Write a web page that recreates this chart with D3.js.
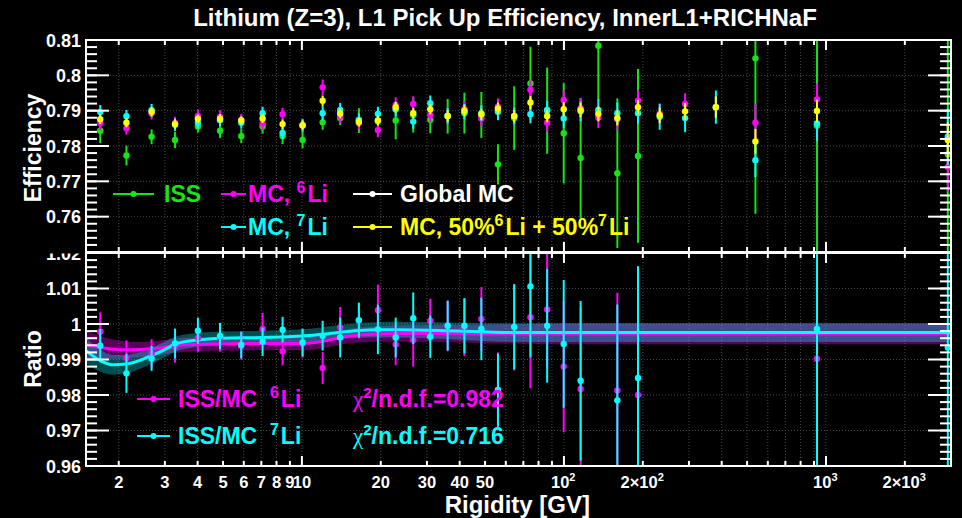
<!DOCTYPE html>
<html>
<head>
<meta charset="utf-8">
<script src="https://d3js.org/d3.v7.min.js"></script>
<style>
  body { margin: 0; background: #000; }
  svg { display: block; font-family: "Liberation Sans", Arial, sans-serif; font-weight: bold; }
  text { white-space: pre; }
</style>
</head>
<body>
<script>
// rigidity bin centres [GV]
var rig = [1.70, 2.14, 2.67, 3.28, 4.01, 4.87, 5.87, 7.08, 8.44, 10.06, 12.0, 14.0, 16.5, 19.5, 22.8, 26.6, 30.9, 36.0, 41.7, 48.4,
           56.0, 64.6, 74.5, 86.3, 99.8, 115.8, 135.3, 159.9, 191.7, 232, 290, 380, 538, 924, 2917];

// efficiencies (top panel)
var issEff = [0.7843,0.7773,0.7826,0.7817,0.7855,0.7843,0.7828,0.7855,0.7828,0.7817,0.7867,0.7879,0.7872,0.7870,0.7872,0.7888,0.7874,0.7884,0.7893,0.7888,
              0.7748,0.7879,0.7977,0.7900,0.7836,0.7766,0.8084,0.7723,0.7772,null,null,null,0.8048,0.7857,0.7777];
var issErr = [0.0035,0.0028,0.0021,0.0023,0.0017,0.002,0.002,0.002,0.0023,0.0023,0.0021,0.002,0.0035,0.0033,0.0053,0.005,0.0038,0.0049,0.0058,0.0065,
              0.0057,0.009,0.0104,0.0122,0.0142,0.017,0.0156,0.0212,0.0246,null,null,null,0.044,0.1,0.1];
var mc6Eff = [0.7865,0.7850,0.7893,0.7865,0.7885,0.7883,0.7874,0.7864,0.7890,0.7858,0.7966,0.7884,0.7865,0.7845,0.7916,0.7919,0.7888,0.7885,0.7904,0.7878,
              0.7911,0.7885,0.7959,0.7866,0.7930,0.7907,0.7881,0.7876,0.7928,0.7891,0.7919,0.7910,0.7866,0.7932,0.7741];
var mc6Err = [0.002,0.0018,0.0018,0.0018,0.0018,0.0018,0.0017,0.0018,0.0018,0.0018,0.0022,0.002,0.0018,0.002,0.0022,0.0022,0.002,0.0022,0.0022,0.0022,
              0.0024,0.0024,0.0026,0.0026,0.0028,0.0028,0.003,0.003,0.003,0.0028,0.003,0.003,0.0053,0.0045,0.007];
var mc7Eff = [0.7896,0.7884,0.7901,0.7860,0.7866,0.7873,0.7866,0.7893,0.7837,0.7858,0.7893,0.7902,0.7874,0.7891,0.7904,0.7869,0.7921,0.7885,0.7897,0.7893,
              0.7897,0.7885,0.7890,0.7902,0.7878,0.7898,0.7902,0.7893,0.7893,0.7883,0.7879,0.7910,0.7760,0.7864,0.7826];
var mc7Err = [0.002,0.0018,0.0018,0.0018,0.0017,0.0017,0.0017,0.0018,0.0018,0.0018,0.002,0.002,0.0018,0.002,0.002,0.002,0.0022,0.0022,0.0022,0.0022,
              0.0024,0.0024,0.0026,0.0026,0.0028,0.0028,0.003,0.003,0.003,0.0037,0.004,0.0047,0.0048,0.005,0.008];
var mixEff = [0.7876,0.7866,0.7897,0.7862,0.7877,0.7877,0.7872,0.7878,0.7862,0.7859,0.7928,0.7892,0.7868,0.7872,0.7910,0.7893,0.7904,0.7885,0.7900,0.7890,
              0.7906,0.7884,0.7923,0.7885,0.7904,0.7902,0.7891,0.7879,0.7910,0.7887,0.7898,0.7910,0.7813,0.7899,0.7817];
var mixErr = [0.0014,0.0013,0.0013,0.0013,0.0012,0.0012,0.0012,0.0013,0.0013,0.0013,0.0015,0.0014,0.0013,0.0014,0.0015,0.0015,0.0015,0.0016,0.0016,0.0016,
              0.0017,0.0017,0.0018,0.0018,0.002,0.002,0.0021,0.0021,0.0021,0.0022,0.0024,0.003,0.0035,0.0032,0.005];

// ratios (bottom panel)
var ratio7 = [0.9939,0.9861,0.9903,0.9945,0.9981,0.9966,0.9941,0.9950,0.9984,0.9948,0.9967,0.9962,1.0011,0.9985,0.9962,1.0016,0.9964,0.9995,0.9995,0.9986,
              0.9814,0.9992,1.0106,0.9995,0.9944,0.9840,null,0.9785,0.9848,null,null,null,null,0.9986,0.9934];
var ratio7Err = [0.0047,0.0055,0.0035,0.0042,0.0037,0.0037,0.0037,0.004,0.0036,0.0039,0.0042,0.0056,0.0049,0.007,0.0056,0.0073,0.006,0.007,0.0078,0.0088,
                 0.0103,0.012,0.02,0.016,0.018,0.0225,null,0.027,0.0315,null,null,null,null,0.1,0.1];
var ratio6 = [0.9978,0.9904,0.9917,0.9936,0.9961,0.9962,0.9939,0.9986,0.9923,0.9945,0.9876,0.9990,1.0009,1.0039,0.9942,0.9955,1.0009,0.9995,0.9990,1.0014,
              0.9815,0.9991,1.0019,1.0041,0.9880,0.9817,null,0.9813,0.9800,null,null,null,null,0.9902,null];
var ratio6Err = [0.0055,0.005,0.004,0.0045,0.004,0.004,0.004,0.0045,0.004,0.004,0.0045,0.0058,0.005,0.0072,0.0058,0.0075,0.0062,0.0072,0.008,0.009,
                 0.0105,0.0122,0.02,0.0165,0.0185,0.023,null,0.0275,0.032,null,null,null,null,0.1,null];

// spline fits to the ratios with their error bands
var fitR    = [1.5, 1.7, 1.9, 2.14, 2.4, 2.67, 3.0, 3.28, 4.0, 4.9, 7.1, 10, 12, 14, 16.5, 19.5, 23, 36, 48, 60, 100, 3000];
var fit7    = [0.9925,0.9897,0.9885,0.9887,0.9897,0.9911,0.9928,0.9943,0.9955,0.9960,0.9962,0.9966,0.9971,0.9977,0.9982,0.9984,0.9984,0.9981,0.9978,0.9976,0.9976,0.9976];
var fit7Err = [0.0036,0.0031,0.0028,0.0026,0.0024,0.0023,0.0022,0.0021,0.002,0.0019,0.0019,0.0019,0.002,0.002,0.0021,0.0021,0.0022,0.0023,0.0025,0.0026,0.0027,0.0027];
var fit6    = [0.9942,0.9934,0.9929,0.9927,0.9928,0.9930,0.9935,0.9939,0.9943,0.9944,0.9945,0.9945,0.9951,0.9962,0.9969,0.9972,0.9973,0.9973,0.9972,0.9972,0.9972,0.9972];
var fit6Err = [0.0038,0.0032,0.0027,0.0024,0.0022,0.0021,0.002,0.002,0.0019,0.0019,0.0019,0.0019,0.002,0.002,0.0021,0.0022,0.0023,0.0024,0.0026,0.0027,0.0029,0.0029];

// axis ticks
var xLabelVals = [2,3,4,5,6,7,8,9,10,20,30,40,50,100,200,1000,2000];
var xLabelText = ["2","3","4","5","6","7","8","9","10","20","30","40","50","10^2","2\u00d710^2","10^3","2\u00d710^3"];
var effTicks = [0.76,0.77,0.78,0.79,0.80,0.81];
var effLabels = ["0.76","0.77","0.78","0.79","0.8","0.81"];
var ratioTicks = [0.96,0.97,0.98,0.99,1.00,1.01,1.02];
var ratioLabels = ["0.96","0.97","0.98","0.99","1","1.01","1.02"];

var GREEN = "#14e614", MAG = "#ff00ff", CYAN = "#00ffff", YEL = "#ffff00";

var width = 962, height = 518;
var svg = d3.select("body").append("svg").attr("width", width).attr("height", height);
svg.append("rect").attr("width", width).attr("height", height).attr("fill", "#000");

var x = d3.scaleLog().domain([1.5, 3000]).range([86, 951]);
var yTop = d3.scaleLinear().domain([0.75, 0.81]).range([252, 40]);
var yBot = d3.scaleLinear().domain([0.96, 1.02]).range([466, 253]);

// writes "a^b" style strings as text with superscripts
function rich(sel, str, supSize, shift) {
  var parts = str.split(/(\^\S)/);
  parts.forEach(function(p) {
    if (p[0] == "^") {
      sel.append("tspan").attr("font-size", supSize).attr("dy", -shift).text(p.slice(1));
      sel.append("tspan").attr("dy", shift).text("\u200a");
    } else if (p.length) {
      sel.append("tspan").text(p);
    }
  });
  return sel;
}

var defs = svg.append("defs");
function clip(id, y0, y1) {
  defs.append("clipPath").attr("id", id).append("rect")
    .attr("x", 86).attr("y", y0).attr("width", 865).attr("height", y1 - y0);
}
clip("cTop", 40, 252);
clip("cBot", 253, 466);
defs.append("clipPath").attr("id", "cLab").append("rect").attr("x", 0).attr("y", 253.5).attr("width", 86).attr("height", 30);

function panel(y, ticks, clipId) {
  var g = svg.append("g");
  var y0 = y.range()[1], y1 = y.range()[0];
  var grid = g.append("g").attr("stroke", "#4a4a4a").attr("stroke-dasharray", "1,2").attr("stroke-width", 1);
  grid.selectAll("line.gx").data(x.ticks()).enter().append("line")
    .attr("x1", function(d){ return x(d); }).attr("x2", function(d){ return x(d); })
    .attr("y1", y0).attr("y2", y1);
  grid.selectAll("line.gy").data(ticks).enter().append("line")
    .attr("x1", 86).attr("x2", 951)
    .attr("y1", function(d){ return y(d); }).attr("y2", function(d){ return y(d); });
  var inner = g.append("g").attr("clip-path", "url(#" + clipId + ")");
  return {g: g, inner: inner, y0: y0, y1: y1};
}

function frame(p, y, ticks, labels, clipLast) {
  var g = svg.append("g").attr("stroke", "#fff").attr("stroke-width", 2);
  g.append("rect").attr("x", 86).attr("y", p.y0).attr("width", 865).attr("height", p.y1 - p.y0).attr("fill", "none");
  var minor = d3.range(y.domain()[0], y.domain()[1] + 1e-9, 0.002);
  [[86, 1], [951, -1]].forEach(function(s) {
    g.selectAll(null).data(minor).enter().append("line")
      .attr("x1", s[0]).attr("x2", s[0] + s[1] * 11)
      .attr("y1", function(d){ return y(d); }).attr("y2", function(d){ return y(d); });
    g.selectAll(null).data(ticks).enter().append("line")
      .attr("x1", s[0]).attr("x2", s[0] + s[1] * 23)
      .attr("y1", function(d){ return y(d); }).attr("y2", function(d){ return y(d); });
  });
  var isDec = function(d){ return Math.abs(Math.log10(d) - Math.round(Math.log10(d))) < 1e-6; };
  [[p.y1, -1], [p.y0, 1]].forEach(function(s) {
    g.selectAll(null).data(x.ticks()).enter().append("line")
      .attr("x1", function(d){ return x(d); }).attr("x2", function(d){ return x(d); })
      .attr("y1", s[0]).attr("y2", function(d){ return s[0] + s[1] * (isDec(d) ? 10 : 5); });
  });
  var lab = svg.append("g").attr("fill", "#fff").attr("font-size", 18).attr("text-anchor", "end");
  lab.selectAll(null).data(ticks).enter().append("text")
    .attr("x", 81).attr("y", function(d){ return y(d) + 6.5; })
    .attr("clip-path", function(d, i){ return (clipLast && i == ticks.length - 1) ? "url(#cLab)" : null; })
    .text(function(d, i){ return labels[i]; });
}

function series(p, y, vals, errs, color, r) {
  var pts = rig.map(function(d, i){ return {r: d, v: vals[i], e: errs[i]}; })
               .filter(function(d){ return d.v != null; });
  p.inner.append("g").selectAll("line").data(pts).enter().append("line")
    .attr("x1", function(d){ return x(d.r); }).attr("x2", function(d){ return x(d.r); })
    .attr("y1", function(d){ return y(d.v - d.e); }).attr("y2", function(d){ return y(d.v + d.e); })
    .attr("stroke", color).attr("stroke-width", 2);
  p.inner.append("g").selectAll("circle").data(pts).enter().append("circle")
    .attr("cx", function(d){ return x(d.r); }).attr("cy", function(d){ return y(d.v); })
    .attr("r", r).attr("fill", color);
}

// ---------- top panel ----------
var topP = panel(yTop, effTicks, "cTop");
series(topP, yTop, issEff, issErr, GREEN, 3.2);
series(topP, yTop, mc6Eff, mc6Err, MAG, 3.2);
series(topP, yTop, mc7Eff, mc7Err, CYAN, 3.2);
series(topP, yTop, mixEff, mixErr, YEL, 3.2);

// ---------- bottom panel ----------
var botP = panel(yBot, ratioTicks, "cBot");
var fitPts = function(vals, errs){ return fitR.map(function(d, i){ return {r: d, v: vals[i], e: errs[i]}; }); };
var area = d3.area().curve(d3.curveMonotoneX)
  .x(function(d){ return x(d.r); })
  .y0(function(d){ return yBot(d.v - d.e); }).y1(function(d){ return yBot(d.v + d.e); });
var line = d3.line().curve(d3.curveMonotoneX)
  .x(function(d){ return x(d.r); }).y(function(d){ return yBot(d.v); });
botP.inner.append("path").datum(fitPts(fit6, fit6Err)).attr("d", area).attr("fill", "rgba(255,0,255,0.35)");
botP.inner.append("path").datum(fitPts(fit7, fit7Err)).attr("d", area).attr("fill", "rgba(0,255,255,0.3)");
botP.inner.append("path").datum(fitPts(fit6, fit6Err)).attr("d", line).attr("fill", "none").attr("stroke", MAG).attr("stroke-width", 3);
botP.inner.append("path").datum(fitPts(fit7, fit7Err)).attr("d", line).attr("fill", "none").attr("stroke", CYAN).attr("stroke-width", 3);
series(botP, yBot, ratio6, ratio6Err, MAG, 3.2);
series(botP, yBot, ratio7, ratio7Err, CYAN, 3.2);

frame(topP, yTop, effTicks, effLabels, false);
frame(botP, yBot, ratioTicks, ratioLabels, true);

// x tick labels
var xl = svg.append("g").attr("fill", "#fff").attr("font-size", 16.5).attr("text-anchor", "middle");
xLabelVals.forEach(function(v, i) {
  rich(xl.append("text").attr("x", x(v)).attr("y", 488), xLabelText[i], 11, 7);
});

// titles
svg.append("text").attr("x", 505).attr("y", 26).attr("text-anchor", "middle").attr("fill", "#fff").attr("font-size", 24)
  .text("Lithium (Z=3), L1 Pick Up Efficiency, InnerL1+RICHNaF");
svg.append("text").attr("x", 590).attr("y", 513).attr("text-anchor", "end").attr("fill", "#fff").attr("font-size", 24)
  .text("Rigidity [GV]");
svg.append("text").attr("transform", "translate(41,148) rotate(-90)").attr("text-anchor", "middle").attr("fill", "#fff").attr("font-size", 23)
  .text("Efficiency");
svg.append("text").attr("transform", "translate(41,359) rotate(-90)").attr("text-anchor", "middle").attr("fill", "#fff").attr("font-size", 23)
  .text("Ratio");

// legends
function legendEntry(x0, x1, y, color, tx, label) {
  var g = svg.append("g");
  g.append("line").attr("x1", x0).attr("x2", x1).attr("y1", y).attr("y2", y).attr("stroke", color).attr("stroke-width", 2);
  g.append("circle").attr("cx", (x0 + x1) / 2).attr("cy", y).attr("r", 3).attr("fill", color);
  var t = g.append("text").attr("x", tx).attr("y", y + 7.5).attr("fill", color).attr("font-size", 23);
  rich(t, label, 16, 9);
}
legendEntry(113, 154, 194, GREEN, 164, "ISS");
legendEntry(221, 246, 194, MAG, 248, "MC, ^6Li");
legendEntry(353, 392, 194, "#fff", 400, "Global MC");
legendEntry(221, 246, 227, CYAN, 248, "MC, ^7Li");
legendEntry(353, 392, 227, YEL, 400, "MC, 50%^6Li + 50%^7Li");

legendEntry(137, 170, 399, MAG, 178, "ISS/MC  ^6Li");
legendEntry(137, 170, 436, CYAN, 178, "ISS/MC  ^7Li");

function chi(y, color, val) {
  var t = svg.append("text").attr("x", 353).attr("y", y).attr("fill", color).attr("font-size", 23);
  t.append("tspan").attr("font-family", "Liberation Serif, serif").attr("font-weight", "normal").text("\u03c7");
  t.append("tspan").attr("font-size", 15).attr("dy", -9).text("2");
  t.append("tspan").attr("dy", 9).text("/n.d.f.=" + val);
}
chi(406.5, MAG, "0.982");
chi(444, CYAN, "0.716");
</script>
</body>
</html>
